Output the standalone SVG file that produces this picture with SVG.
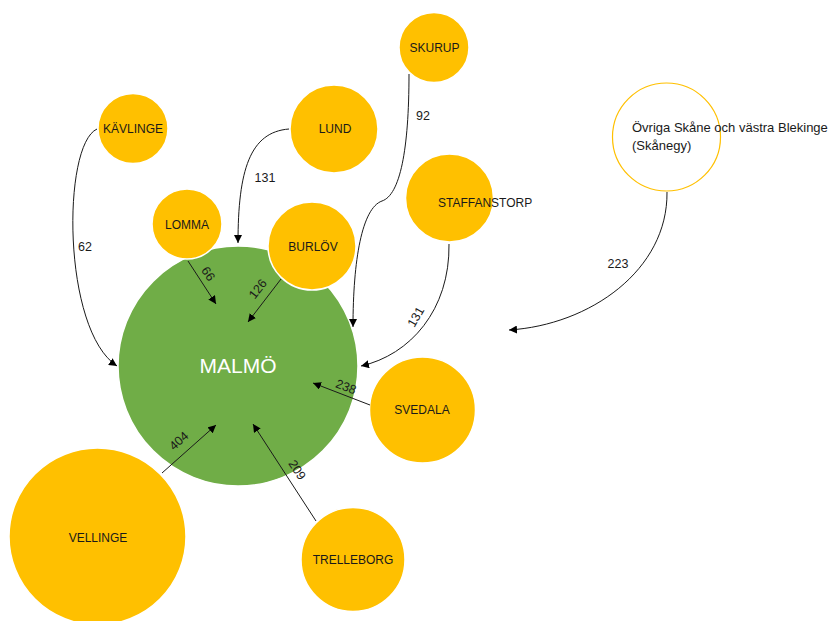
<svg xmlns="http://www.w3.org/2000/svg" width="833" height="621" viewBox="0 0 833 621">
<defs>
<style>
.n{fill:#FFC000;stroke:#fff;stroke-width:1.5}
.t{font-family:"Liberation Sans",Arial,sans-serif;font-size:12px;fill:#1a1a1a;text-anchor:middle}
.ts{font-family:"Liberation Sans",Arial,sans-serif;font-size:12px;fill:#1a1a1a;text-anchor:start}
.l{font-family:"Liberation Sans",Arial,sans-serif;font-size:12.5px;fill:#1a1a1a;text-anchor:middle}
.c{fill:none;stroke:#1a1a1a;stroke-width:1;marker-end:url(#ah)}
</style>
<marker id="ah" viewBox="0 0 10 10" refX="10" refY="5" markerWidth="8" markerHeight="8" markerUnits="userSpaceOnUse" orient="auto">
<path d="M0,0 L10,5 L0,10 z" fill="#000"/>
</marker>
</defs>
<rect width="833" height="621" fill="#fff"/>
<g id="malmo"><circle cx="238" cy="366" r="120" fill="#70AD47" stroke="#fff" stroke-width="1.5"/><text x="238" y="373" font-family="'Liberation Sans',Arial,sans-serif" font-size="21" fill="#fff" text-anchor="middle">MALMÖ</text></g>
<g id="kavlinge"><circle class="n" cx="133" cy="128.5" r="35"/><text class="t" x="133" y="133">KÄVLINGE</text></g>
<g id="lund"><circle class="n" cx="334" cy="129" r="44"/><text class="t" x="335" y="133">LUND</text></g>
<g id="skurup"><circle class="n" cx="434" cy="47.5" r="35"/><text class="t" x="434.5" y="52">SKURUP</text></g>
<g id="lomma"><circle class="n" cx="187" cy="224" r="35"/><text class="t" x="187" y="229">LOMMA</text></g>
<g id="burlov"><circle class="n" cx="312" cy="246" r="44"/><text class="t" x="313" y="251">BURLÖV</text></g>
<g id="staffanstorp"><circle class="n" cx="449.5" cy="198" r="44"/><text class="ts" x="438" y="207">STAFFANSTORP</text></g>
<g id="ovriga"><circle cx="666.5" cy="137" r="54" fill="#fff" stroke="#FFC000" stroke-width="1.2"/><text class="ts" x="632" y="132" style="font-size:13px">Övriga Skåne och västra Blekinge</text><text class="ts" x="632" y="150" style="font-size:13px">(Skånegy)</text></g>
<g id="svedala"><circle class="n" cx="422.5" cy="410" r="53"/><text class="t" x="422" y="414">SVEDALA</text></g>
<g id="vellinge"><circle class="n" cx="97.5" cy="536.5" r="88.5"/><text class="t" x="98" y="542">VELLINGE</text></g>
<g id="trelleborg"><circle class="n" cx="353" cy="559.5" r="52"/><text class="t" x="353" y="564">TRELLEBORG</text></g>
<g id="connectors">
<path class="c" d="M97,129 C62,145 62,330 117,366"/>
<text class="l" x="85" y="251">62</text>
<path class="c" d="M289,129 C250,132 238,170 238,243"/>
<text class="l" x="265" y="182">131</text>
<path class="c" d="M409,74 C409,150 400,195 382,201 C362,208 353,260 353,327"/>
<text class="l" x="423" y="120">92</text>
<path class="c" d="M449,244 C450,310 410,355 361,366"/>
<text class="l" transform="translate(416,317) rotate(-60)" x="0" y="4">131</text>
<path class="c" d="M188,261 L216,304"/>
<text class="l" transform="translate(208,274) rotate(57)" x="0" y="4">66</text>
<path class="c" d="M281,279 L248,322"/>
<text class="l" transform="translate(258,289) rotate(-52)" x="0" y="4">126</text>
<path class="c" d="M370,405 L313,383"/>
<text class="l" transform="translate(346,387) rotate(21)" x="0" y="4">238</text>
<path class="c" d="M667,192 C668,270 590,325 509,330"/>
<text class="l" x="618" y="268">223</text>
<path class="c" d="M162,473 L216,425"/>
<text class="l" transform="translate(179,441) rotate(-42)" x="0" y="4">404</text>
<path class="c" d="M316,521 L253,424"/>
<text class="l" transform="translate(297,470) rotate(57)" x="0" y="4">209</text>
</g>
</svg>
